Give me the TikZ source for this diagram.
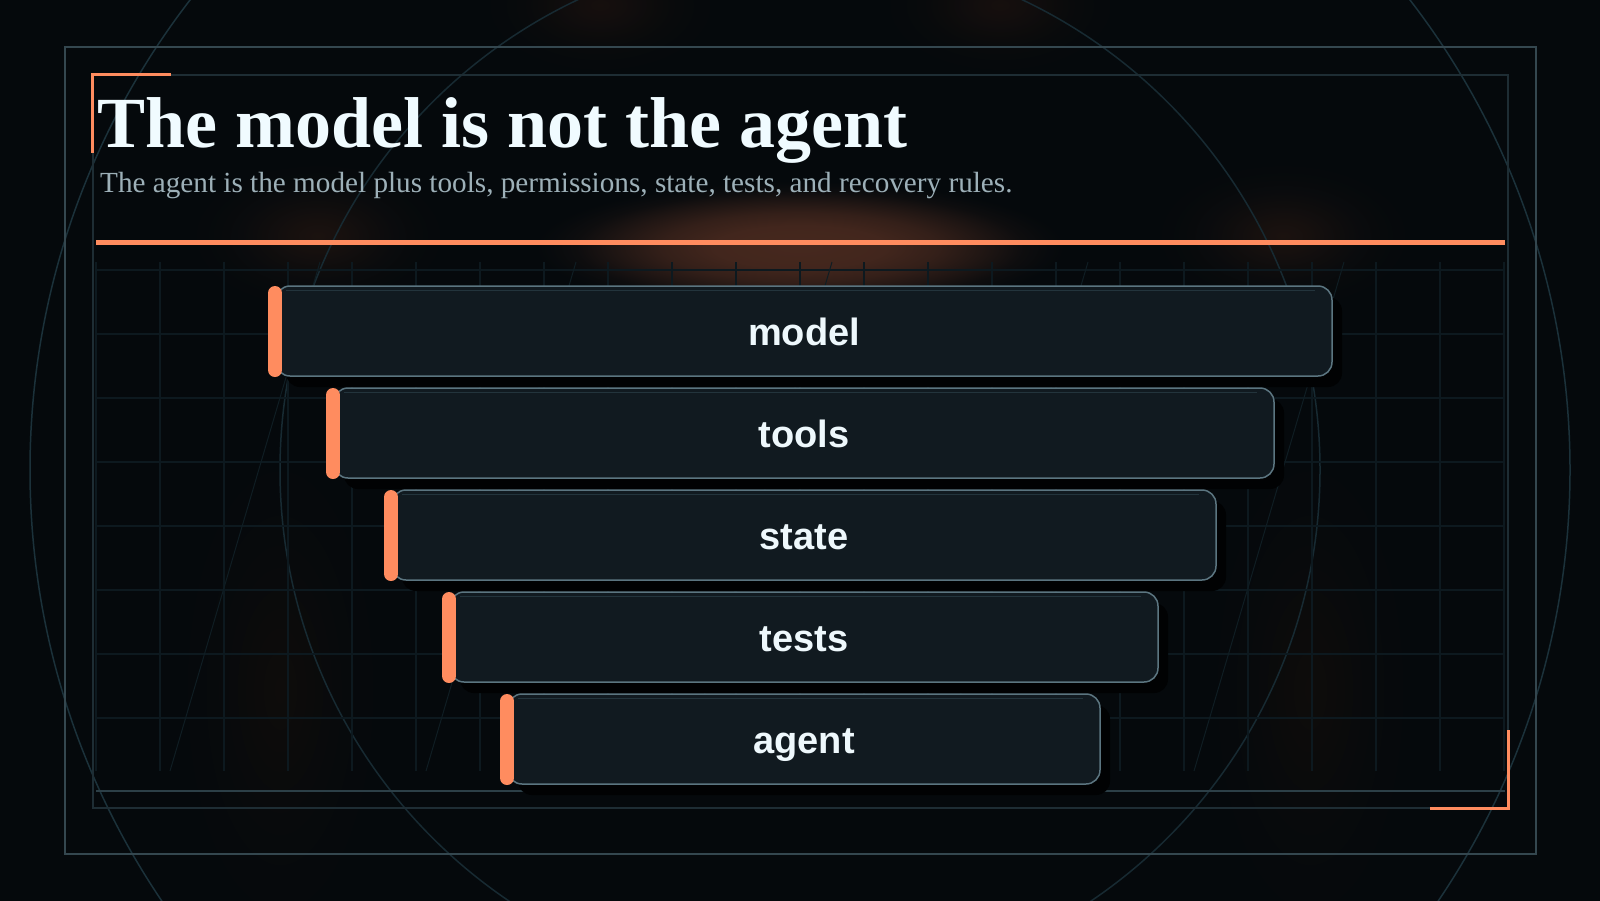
\documentclass[tikz,border=0pt]{standalone}
\usepackage{fontspec}
\setmainfont{Liberation Serif}
\newfontfamily\labelsans{Liberation Sans}
\usetikzlibrary{shadows}
\definecolor{bgc}{HTML}{05090C}
\definecolor{glowA}{RGB}{70,40,30}
\definecolor{glowB}{RGB}{27,18,15}
\definecolor{glowC}{RGB}{22,15,13}
\definecolor{glowD}{RGB}{14,12,11}
\definecolor{ringouter}{HTML}{1B313A}
\definecolor{ringinner}{HTML}{172A32}
\definecolor{gridc}{HTML}{0D191F}
\definecolor{diagc}{HTML}{0F1D23}
\definecolor{outerc}{HTML}{34474F}
\definecolor{innerc}{HTML}{1E2D34}
\definecolor{basec}{HTML}{2C3F47}
\definecolor{accent}{HTML}{FF8C5F}
\definecolor{boxfill}{HTML}{111A20}
\definecolor{boxedge}{HTML}{5B7580}
\definecolor{hlc}{HTML}{23343C}
\definecolor{shadowc}{HTML}{010203}
\definecolor{titlec}{HTML}{F0FBFF}
\definecolor{subc}{HTML}{9DB0B8}
\definecolor{labelc}{HTML}{EEF8FC}
\newcommand\mkglow[2]{%
  \colorlet{#1a}{#2}\colorlet{#1b}{#2!78!bgc}\colorlet{#1c}{#2!48!bgc}%
  \colorlet{#1d}{#2!22!bgc}\colorlet{#1e}{#2!7!bgc}%
  \pgfdeclareradialshading{#1}{\pgfpointorigin}{color(0bp)=(#1a); color(5bp)=(#1b); color(10bp)=(#1c); color(15bp)=(#1d); color(20bp)=(#1e); color(25bp)=(bgc); color(50bp)=(bgc)}}
\mkglow{glowside}{glowB}
\mkglow{glowtop}{glowC}
\mkglow{glowband}{glowD}
\colorlet{gma}{glowA}\colorlet{gmb}{glowA!94!bgc}\colorlet{gmc}{glowA!72!bgc}
\colorlet{gmd}{glowA!40!bgc}\colorlet{gme}{glowA!14!bgc}\colorlet{gmf}{glowA!4!bgc}
\pgfdeclareradialshading{glowmain}{\pgfpointorigin}{color(0bp)=(gma); color(8bp)=(gmb); color(13bp)=(gmc); color(17.5bp)=(gmd); color(21bp)=(gme); color(23.5bp)=(gmf); color(25bp)=(bgc); color(50bp)=(bgc)}
\tikzset{
  layer/.style={draw=boxedge, line width=1.5pt, fill=boxfill, rounded corners=14pt,
    minimum height=90pt, inner sep=0pt, outer sep=0pt, text=labelc,
    text height=30pt, text depth=2pt,
    font=\labelsans\bfseries\fontsize{38}{44}\selectfont,
    general shadow={fill=shadowc, draw=none, shadow xshift=10pt, shadow yshift=-11pt}},
  accentbar/.style={accent, line width=14pt, line cap=round},
  hl/.style={hlc, line width=1.5pt},
  gridline/.style={gridc, line width=1.2pt},
  diagline/.style={diagc, line width=1pt},
  bracket/.style={accent, line width=3pt},
}
\begin{document}
\begin{tikzpicture}[x=1pt,y=-1pt]
\useasboundingbox (0,0) rectangle (1600,900);
\fill[bgc] (-20,-20) rectangle (1620,920);
\clip (-20,-20) rectangle (1620,920);
% glows
\shade[shading=glowtop] (600,5) ellipse [x radius=120pt, y radius=70pt];
\shade[shading=glowtop] (1000,5) ellipse [x radius=120pt, y radius=70pt];
\shade[shading=glowside] (318,236) ellipse [x radius=130pt, y radius=75pt];
\shade[shading=glowside] (1283,236) ellipse [x radius=130pt, y radius=75pt];
\shade[shading=glowband] (280,690) ellipse [x radius=110pt, y radius=260pt];
\shade[shading=glowband] (1310,690) ellipse [x radius=110pt, y radius=260pt];
\shade[shading=glowmain] (800,247) ellipse [x radius=265pt, y radius=66pt];
% rings
\draw[ringouter, line width=1.5pt] (800,470) circle [radius=770pt];
\draw[ringinner, line width=1.5pt] (800,470) circle [radius=520pt];
% grid
\foreach \k in {0,...,22} \draw[gridline] ({96+64*\k},262) -- ({96+64*\k},771);
\foreach \j in {0,...,7} \draw[gridline] (96,{270+64*\j}) -- (1504,{270+64*\j});
\foreach \k in {0,...,4} \draw[diagline] ({320+256*\k},262) -- ({170+256*\k},771);
% frames
\draw[outerc, line width=2pt] (65,47) rectangle (1536,854);
\draw[innerc, line width=2pt] (92.5,74.5) rectangle (1508,808);
\draw[basec, line width=2pt] (96,791) -- (1505,791);
\draw[accent, line width=5pt] (96,242.5) -- (1505,242.5);
\draw[bracket] (171,74.5) -- (92.5,74.5) -- (92.5,153);
\draw[bracket] (1508,730) -- (1508,808) -- (1430,808);
% title
\node[anchor=base west, inner sep=0pt, text=titlec, font=\bfseries\fontsize{72}{80}\selectfont] (title) at (97.5,147) {The model is not the agent};
\node[anchor=base west, inner sep=0pt, text=subc, font=\fontsize{29.2}{34}\selectfont] (subtitle) at (100,192) {The agent is the model plus tools, permissions, state, tests, and recovery rules.};
% layers
\foreach \n [count=\i from 0] in {model,tools,state,tests,agent} {
  \pgfmathsetmacro{\w}{1056-116*\i}
  \pgfmathsetmacro{\cy}{331+102*\i}
  \node[layer, minimum width=\w pt] (\n) at (804,\cy) {\n};
  \draw[hl] ([xshift=10pt, yshift=-4.5pt]\n.north west) -- ([xshift=-17pt, yshift=-4.5pt]\n.north east);
  \draw[accentbar] ([xshift=-1pt, yshift=-7pt]\n.north west) -- ([xshift=-1pt, yshift=6pt]\n.south west);
}
\end{tikzpicture}
\end{document}
